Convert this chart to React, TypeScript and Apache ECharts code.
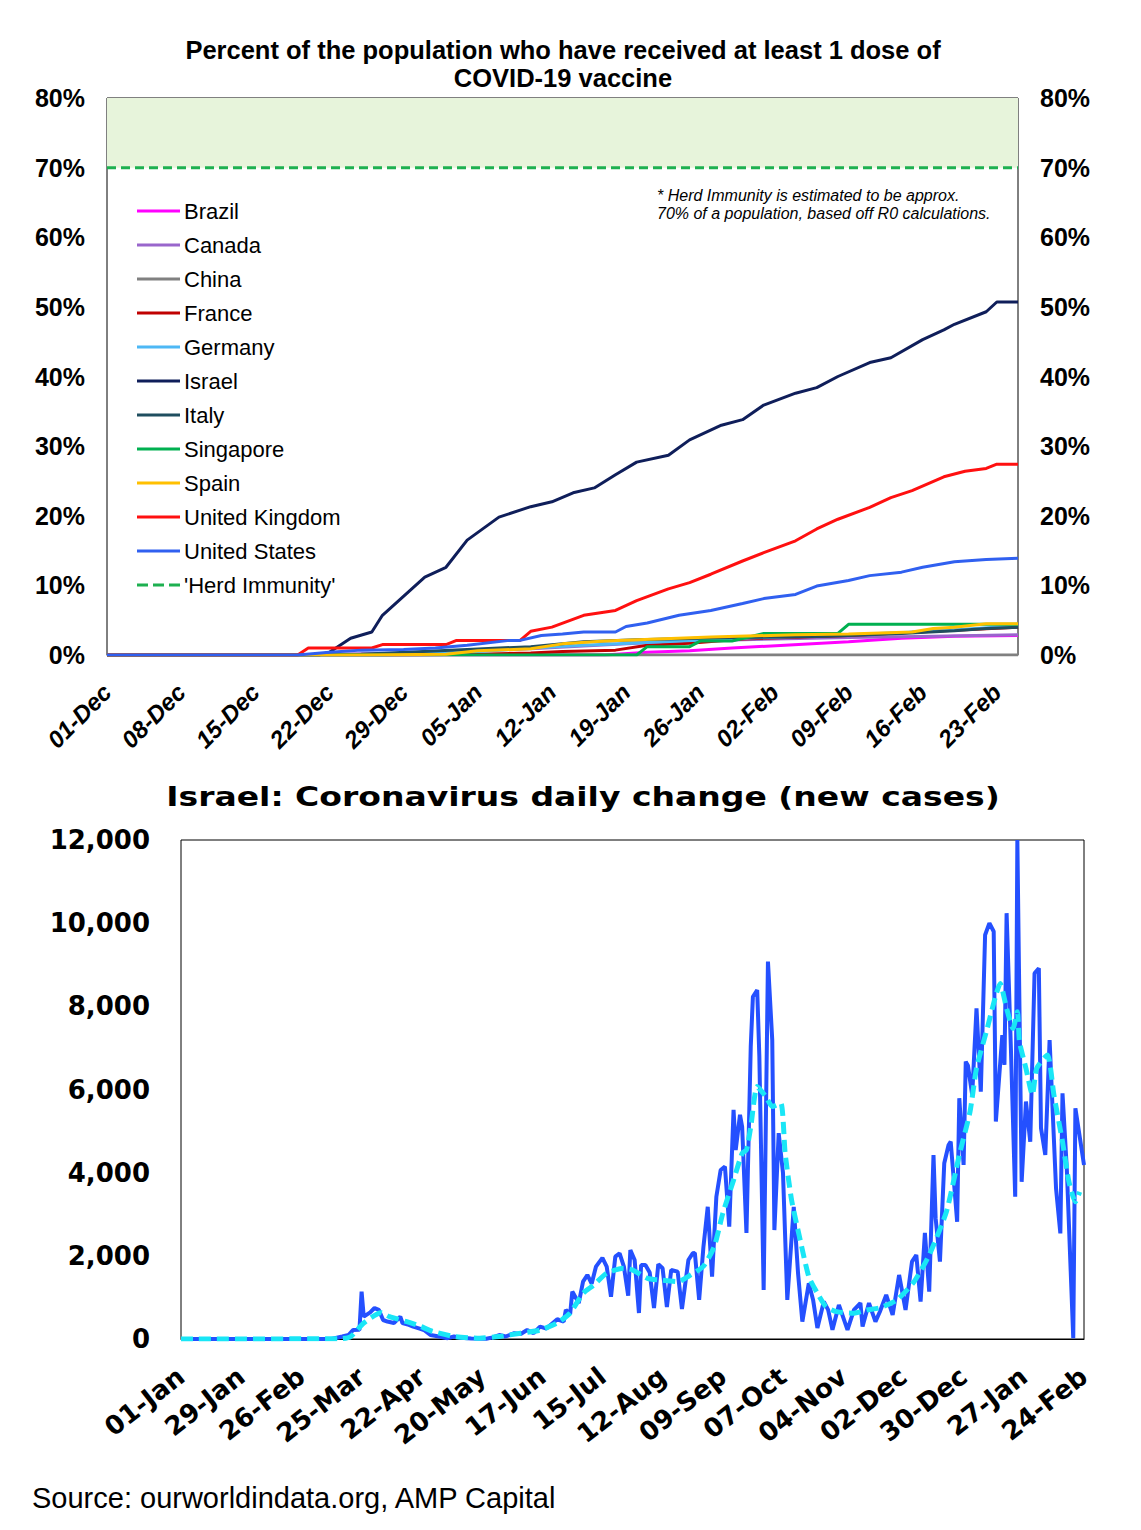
import React, { useEffect, useRef } from 'react';
import * as echarts from 'echarts';

// ---------- Top chart: % of population with at least 1 dose (day index from 01-Dec) ----------
const topTickLabels = ['01-Dec', '08-Dec', '15-Dec', '22-Dec', '29-Dec', '05-Jan', '12-Jan', '19-Jan', '26-Jan', '02-Feb', '09-Feb', '16-Feb', '23-Feb'];
const pctTicks = [0, 10, 20, 30, 40, 50, 60, 70, 80];

const brazil = [[0, 0], [47, 0], [51, 0.4], [55, 0.6], [59, 1.0], [64, 1.4], [70, 1.9], [75, 2.4], [80, 2.7], [86, 2.8]];
const canada = [[0, 0], [13, 0], [20, 0.1], [30, 0.3], [35, 0.6], [40, 0.9], [45, 1.3], [50, 1.7], [55, 2.0], [60, 2.2], [70, 2.5], [78, 2.7], [86, 2.9]];
const china = [[0, 0], [86, 0]];
const france = [[0, 0], [26, 0], [35, 0.1], [40, 0.3], [43, 0.5], [48, 0.7], [51, 1.4], [55, 1.7], [60, 2.3], [70, 2.8], [78, 3.4], [86, 4.0]];
const germany = [[0, 0], [26, 0], [30, 0.2], [35, 0.5], [40, 1.0], [45, 1.4], [51, 1.8], [60, 2.4], [70, 2.9], [78, 3.4], [86, 4.2]];
const israel = [[0, 0], [20, 0], [21, 0.4], [23, 2.4], [25, 3.3], [26, 5.7], [30, 11.2], [32, 12.6], [34, 16.5], [37, 19.8], [40, 21.3], [42, 22.0], [44, 23.3], [46, 24.0], [48, 25.9], [50, 27.7], [53, 28.7], [55, 30.9], [58, 33.0], [60, 33.8], [62, 35.9], [65, 37.6], [67, 38.4], [69, 40.0], [72, 42.0], [74, 42.7], [77, 45.3], [79, 46.7], [80, 47.5], [83, 49.3], [84, 50.7], [86, 50.7]];
const italy = [[0, 0], [24, 0.1], [34, 0.8], [37, 1.0], [40, 1.2], [45, 1.9], [50, 2.2], [59, 2.5], [68, 2.7], [75, 3.1], [80, 3.5], [83, 3.8], [86, 4.0]];
const singapore = [[0, 0], [50, 0], [51, 1.2], [55, 1.2], [56, 2.0], [59, 2.0], [62, 3.1], [69, 3.1], [70, 4.4], [86, 4.4]];
const spain = [[0, 0], [24, 0], [32, 0.1], [35, 0.6], [40, 0.9], [43, 1.6], [47, 2.0], [52, 2.3], [57, 2.6], [65, 2.9], [70, 3.0], [76, 3.3], [78, 3.8], [80, 4.0], [83, 4.5], [86, 4.5]];
const unitedKingdom = [[0, 0], [18, 0], [19, 1.0], [25, 1.0], [26, 1.5], [32, 1.5], [33, 2.1], [39, 2.1], [40, 3.4], [42, 4.0], [45, 5.7], [48, 6.4], [50, 7.8], [53, 9.5], [55, 10.4], [57, 11.6], [60, 13.5], [62, 14.7], [65, 16.4], [67, 18.1], [69, 19.5], [72, 21.2], [74, 22.6], [76, 23.6], [79, 25.6], [81, 26.4], [83, 26.8], [84, 27.4], [86, 27.4]];
const unitedStates = [[0, 0], [18, 0], [21, 0.4], [24, 0.7], [28, 0.8], [31, 1.0], [34, 1.4], [38, 2.1], [39, 2.1], [41, 2.8], [43, 3.0], [45, 3.3], [48, 3.3], [49, 4.1], [51, 4.6], [54, 5.7], [57, 6.4], [60, 7.4], [62, 8.1], [65, 8.7], [67, 9.9], [70, 10.7], [72, 11.4], [75, 11.9], [77, 12.6], [80, 13.4], [83, 13.7], [86, 13.9]];
const herdLevel = [[0, 70], [86, 70]];
const herdBand = [70, 80];

const countryNames = ['Brazil', 'Canada', 'China', 'France', 'Germany', 'Israel', 'Italy', 'Singapore', 'Spain', 'United Kingdom', 'United States'];
const countryColors = ['#FF00FF', '#9966CC', '#808080', '#C00000', '#4DB8F5', '#0F1E5A', '#1F4E5F', '#00B050', '#FFC000', '#FF1010', '#3060F0'];
const countryData = [brazil, canada, china, france, germany, israel, italy, singapore, spain, unitedKingdom, unitedStates];
const herdName = "'Herd Immunity'";

// ---------- Bottom chart: Israel daily new cases (day index from 01-Jan-2020) ----------
const bottomTickLabels = ['01-Jan', '29-Jan', '26-Feb', '25-Mar', '22-Apr', '20-May', '17-Jun', '15-Jul', '12-Aug', '09-Sep', '07-Oct', '04-Nov', '02-Dec', '30-Dec', '27-Jan', '24-Feb'];
const casesTicks = [0, 2000, 4000, 6000, 8000, 10000, 12000];

const dailyCases = [
  [0, 0], [70, 0], [75, 60], [78, 100], [80, 215], [83, 220], [84, 1140], [85, 536], [88, 640], [90, 745], [92, 700], [94, 457], [96, 420], [99, 385], [102, 536], [103, 385], [106, 340], [108, 297], [111, 250], [113, 216], [116, 96], [120, 60], [124, 20], [127, 60], [130, 30], [135, 10], [142, 5], [145, 40], [148, 96], [151, 60], [155, 140], [158, 120], [161, 215], [164, 140], [167, 297], [170, 250], [172, 340], [175, 475], [178, 420], [179, 700], [181, 600], [182, 1140], [185, 865], [187, 1380], [189, 1540], [191, 1330], [193, 1740], [196, 1950], [198, 1740], [200, 1017], [202, 1980], [204, 2060], [206, 1740], [208, 1040], [209, 2140], [211, 1900], [213, 625], [214, 1780], [216, 1780], [218, 1600], [220, 745], [222, 1800], [224, 1700], [226, 770], [228, 1660], [231, 1620], [233, 720], [236, 1900], [238, 2060], [239, 2070], [241, 940], [243, 2220], [245, 3180], [247, 1500], [249, 3420], [251, 4065], [253, 4145], [255, 2700], [257, 5510], [258, 4545], [260, 5390], [261, 5100], [263, 2550], [265, 7030], [266, 8230], [268, 8390], [269, 6790], [271, 1180], [273, 9075], [275, 7190], [276, 2620], [278, 4950], [280, 3990], [282, 940], [285, 3180], [287, 1580], [289, 417], [292, 1340], [294, 940], [296, 265], [299, 900], [301, 700], [303, 220], [306, 820], [310, 220], [313, 700], [316, 865], [317, 300], [320, 865], [323, 417], [325, 650], [328, 1060], [331, 577], [334, 1540], [337, 700], [340, 1860], [342, 2020], [344, 900], [346, 2550], [348, 1140], [350, 4425], [351, 2900], [353, 1860], [355, 4225], [357, 4665], [358, 4745], [361, 2820], [362, 5790], [364, 4185], [365, 6670], [366, 6580], [368, 5870], [370, 7950], [372, 5950], [374, 9715], [376, 10000], [378, 9800], [379, 5230], [382, 7310], [383, 6590], [384, 10240], [386, 6990], [388, 3420], [389, 12000], [391, 3780], [393, 5710], [395, 4745], [397, 8795], [399, 8915], [400, 5070], [402, 4425], [404, 7190], [407, 3620], [409, 2540], [410, 5910], [412, 4100], [415, 20], [416, 5550], [420, 4185],
];
const weeklyAverage = [
  [0, 0], [75, 10], [79, 60], [85, 385], [93, 633], [97, 536], [105, 417], [111, 313], [117, 184], [127, 60], [139, 20], [148, 60], [158, 140], [167, 215], [175, 385], [181, 625], [187, 1100], [192, 1300], [198, 1580], [206, 1700], [210, 1660], [217, 1460], [223, 1420], [231, 1380], [237, 1540], [243, 1750], [248, 2220], [252, 3020], [257, 3820], [261, 4465], [263, 4545], [265, 5100], [268, 6070], [272, 5830], [275, 5590], [279, 5670], [281, 4465], [284, 3340], [288, 2380], [292, 1500], [296, 1100], [300, 777], [305, 657], [313, 620], [319, 700], [325, 750], [333, 940], [341, 1380], [348, 2020], [356, 3060], [362, 4425], [367, 5470], [370, 6510], [375, 7470], [379, 8270], [381, 8550], [384, 7950], [387, 7470], [389, 7870], [390, 7150], [393, 6510], [396, 5870], [398, 6510], [403, 6830], [406, 5870], [410, 4745], [413, 3780], [416, 3300], [418, 3540],
];

const ARIAL = 'Liberation Sans, Arial, Helvetica, sans-serif';
const WIDE = 'DejaVu Sans, Verdana, sans-serif';
const SOLID_ICON = 'path://M0,0h43v3h-43z';
const DASH_ICON = 'path://M0,0h11v3h-11zM16,0h11v3h-11zM32,0h11v3h-11z';

export default function App() {
  const ref = useRef<HTMLDivElement>(null);

  useEffect(() => {
    if (!ref.current) return;
    const chart = echarts.init(ref.current, undefined, { renderer: 'svg' });

    const countrySeries = countryNames.map((name, i) => ({
      name,
      type: 'line',
      xAxisIndex: 0,
      yAxisIndex: 0,
      data: countryData[i],
      symbol: 'none',
      lineStyle: { color: countryColors[i], width: 3 },
      itemStyle: { color: countryColors[i] },
      z: 3 + i,
    }));

    const option: any = {
      animation: false,
      backgroundColor: '#ffffff',
      grid: [
        { left: 107, top: 98, width: 911, height: 557, show: true, borderColor: '#000', borderWidth: 1, backgroundColor: 'transparent' },
        { left: 181, top: 840, width: 903, height: 499, show: true, borderColor: '#000', borderWidth: 1, backgroundColor: 'transparent' },
      ],
      xAxis: [
        {
          type: 'value', gridIndex: 0, min: 0, max: 86, interval: 7,
          axisLine: { show: true, lineStyle: { color: '#808080', width: 1 } },
          axisTick: { show: false }, splitLine: { show: false },
          axisLabel: {
            rotate: 45, margin: 33, interval: 0, showMaxLabel: false,
            fontFamily: ARIAL, fontSize: 24, fontWeight: 'bold', fontStyle: 'italic', color: '#000',
            formatter: (v: number) => (v % 7 === 0 && topTickLabels[v / 7]) ? topTickLabels[v / 7] : '',
          },
        },
        {
          type: 'value', gridIndex: 1, min: 0, max: 420, interval: 28,
          axisLine: { show: true, lineStyle: { color: '#000', width: 1 } },
          axisTick: { show: false }, splitLine: { show: false },
          axisLabel: {
            rotate: 38, margin: 34, interval: 0, hideOverlap: false,
            fontFamily: WIDE, fontSize: 26, fontWeight: 'bold', color: '#000',
            formatter: (v: number) => (v % 28 === 0 && bottomTickLabels[v / 28]) ? bottomTickLabels[v / 28] : '',
          },
        },
      ],
      yAxis: [
        {
          type: 'value', gridIndex: 0, min: pctTicks[0], max: pctTicks[pctTicks.length - 1], interval: 10, position: 'left',
          axisLine: { show: false }, axisTick: { show: false }, splitLine: { show: false },
          axisLabel: { margin: 22, fontFamily: ARIAL, fontSize: 25, fontWeight: 'bold', color: '#000', formatter: '{value}%' },
        },
        {
          type: 'value', gridIndex: 0, min: pctTicks[0], max: pctTicks[pctTicks.length - 1], interval: 10, position: 'right',
          axisLine: { show: false }, axisTick: { show: false }, splitLine: { show: false },
          axisLabel: { margin: 22, fontFamily: ARIAL, fontSize: 25, fontWeight: 'bold', color: '#000', formatter: '{value}%' },
        },
        {
          type: 'value', gridIndex: 1, min: casesTicks[0], max: casesTicks[casesTicks.length - 1], interval: 2000,
          axisLine: { show: false }, axisTick: { show: false }, splitLine: { show: false },
          axisLabel: {
            margin: 31, fontFamily: WIDE, fontSize: 26, fontWeight: 'bold', color: '#000',
            formatter: (v: number) => v.toLocaleString('en-US'),
          },
        },
      ],
      legend: {
        orient: 'vertical', left: 137, top: 200, padding: 0, itemWidth: 43, itemHeight: 3, itemGap: 12,
        data: [
          ...countryNames.map((name) => ({ name, icon: SOLID_ICON })),
          { name: herdName, icon: DASH_ICON },
        ],
        textStyle: { fontFamily: ARIAL, fontSize: 22, color: '#000', lineHeight: 22, padding: [0, 0, 0, -1] },
        selectedMode: false,
      },
      series: [
        ...countrySeries,
        {
          name: herdName,
          type: 'line', xAxisIndex: 0, yAxisIndex: 0,
          data: herdLevel, symbol: 'none',
          lineStyle: { color: '#1DB050', width: 3, type: [9, 5] },
          itemStyle: { color: '#1DB050' },
          z: 2,
          markArea: {
            silent: true,
            itemStyle: { color: '#E7F4DB' },
            data: [[{ yAxis: herdBand[0] }, { yAxis: herdBand[1] }]],
          },
        },
        {
          name: 'Daily new cases',
          type: 'line', xAxisIndex: 1, yAxisIndex: 2,
          data: dailyCases, symbol: 'none',
          lineStyle: { color: '#2450FF', width: 4 },
          itemStyle: { color: '#2450FF' },
          z: 3,
        },
        {
          name: '7-day average',
          type: 'line', xAxisIndex: 1, yAxisIndex: 2,
          data: weeklyAverage, symbol: 'none', smooth: 0.2,
          lineStyle: { color: '#19E6F6', width: 5, type: [12, 6] },
          itemStyle: { color: '#19E6F6' },
          z: 4,
        },
      ],
      graphic: [
        {
          type: 'text', x: 563, y: 64,
          style: {
            text: 'Percent of the population who have received at least 1 dose of\nCOVID-19 vaccine',
            align: 'center', verticalAlign: 'middle', textAlign: 'center', textVerticalAlign: 'middle',
            font: `bold 25.5px ${ARIAL}`, lineHeight: 28, fill: '#000',
          },
        },
        {
          type: 'text', x: 657, y: 186,
          style: {
            text: '* Herd Immunity is estimated to be approx.\n70% of a population, based off R0 calculations.',
            font: `italic 16px ${ARIAL}`, lineHeight: 18, fill: '#000',
          },
        },
        {
          type: 'text', x: 583, y: 797, scaleX: 1.27,
          style: {
            text: 'Israel: Coronavirus daily change (new cases)',
            align: 'center', verticalAlign: 'middle', textAlign: 'center', textVerticalAlign: 'middle',
            font: `bold 26px ${WIDE}`, fill: '#000',
          },
        },
        {
          type: 'text', x: 32, y: 1498,
          style: {
            text: 'Source: ourworldindata.org, AMP Capital',
            verticalAlign: 'middle', textVerticalAlign: 'middle',
            font: `29px ${ARIAL}`, fill: '#000',
          },
        },
      ],
    };

    chart.setOption(option);
    return () => chart.dispose();
  }, []);

  return <div ref={ref} style={{ position: 'absolute', left: 0, top: 0, width: 1141, height: 1530 }} />;
}
